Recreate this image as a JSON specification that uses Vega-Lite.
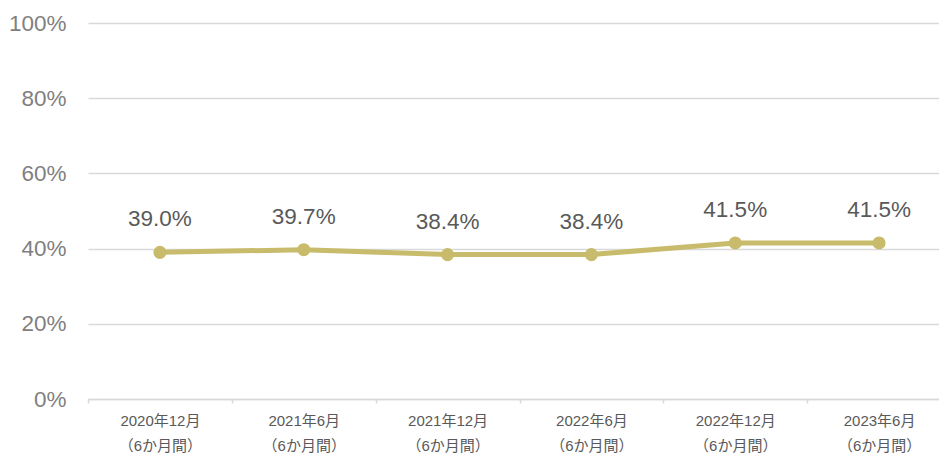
{
  "$schema": "https://vega.github.io/schema/vega-lite/v6.json",
  "width": 851,
  "height": 376,
  "autosize": "none",
  "padding": {"left": 88, "top": 23, "right": 0, "bottom": 57},
  "background": "white",
  "config": {
    "view": {"stroke": null},
    "font": "Liberation Sans, Noto Sans CJK JP, sans-serif"
  },
  "data": {
    "values": [
      {"period": "2020年12月\n（6か月間）", "rate": 0.390, "label": "39.0%"},
      {"period": "2021年6月\n（6か月間）", "rate": 0.397, "label": "39.7%"},
      {"period": "2021年12月\n（6か月間）", "rate": 0.384, "label": "38.4%"},
      {"period": "2022年6月\n（6か月間）", "rate": 0.384, "label": "38.4%"},
      {"period": "2022年12月\n（6か月間）", "rate": 0.415, "label": "41.5%"},
      {"period": "2023年6月\n（6か月間）", "rate": 0.415, "label": "41.5%"}
    ]
  },
  "encoding": {
    "x": {
      "field": "period",
      "type": "nominal",
      "sort": null,
      "scale": {"type": "band", "paddingInner": 0, "paddingOuter": 0, "range": [0, 863]},
      "axis": {
        "title": null,
        "labelAngle": 0,
        "labelExpr": "split(datum.label, '\\n')",
        "labelFont": "Liberation Sans, Noto Sans CJK JP, sans-serif",
        "labelFontSize": 15,
        "labelLineHeight": 25,
        "labelColor": "#595959",
        "labelPadding": 10,
        "domainColor": "#d9d9d9",
        "domainWidth": 1.5,
        "tickColor": "#d9d9d9",
        "tickSize": 4,
        "tickWidth": 1.5,
        "tickBand": "extent",
        "grid": false
      }
    },
    "y": {
      "field": "rate",
      "type": "quantitative",
      "scale": {"domain": [0, 1]},
      "axis": {
        "title": null,
        "format": ".0%",
        "values": [0, 0.2, 0.4, 0.6, 0.8, 1],
        "labelFontSize": 22.5,
        "labelColor": "#7f7f7f",
        "labelPadding": 22,
        "ticks": false,
        "domain": false,
        "gridColor": "#d9d9d9",
        "gridWidth": 1.5
      }
    }
  },
  "layer": [
    {
      "mark": {"type": "line", "color": "#c8bb6b", "strokeWidth": 5}
    },
    {
      "mark": {"type": "point", "filled": true, "opacity": 1, "color": "#c8bb6b", "size": 170}
    },
    {
      "mark": {"type": "text", "dy": -33, "fontSize": 22.5, "color": "#595959"},
      "encoding": {"text": {"field": "label"}}
    }
  ]
}
